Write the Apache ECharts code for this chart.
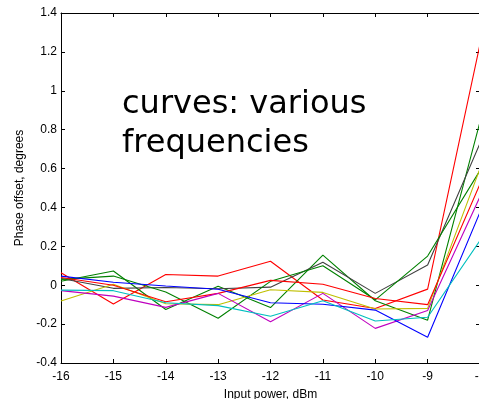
<!DOCTYPE html>
<html>
<head>
<meta charset="utf-8">
<script src="https://cdn.jsdelivr.net/npm/echarts@6/dist/echarts.min.js"></script>
<style>
  html, body { margin: 0; padding: 0; background: #fff; }
  #chart { width: 479px; height: 399px; }
</style>
</head>
<body>
<div id="chart"></div>
<script>
// input power, dBm
const powers = [-16, -15, -14, -13, -12, -11, -10, -9, -8];

// phase offset (degrees), one curve per frequency
const redA    = [0.064, -0.097, 0.055, 0.047, 0.123, -0.076, -0.12, -0.02, 1.24];
const redB    = [0.04, 0.0, -0.085, -0.042, 0.025, 0.005, -0.068, -0.10, 0.52];
const greenP  = [0.02, 0.073, -0.125, -0.005, -0.115, 0.155, -0.08, -0.18, 0.84];
const greenQ  = [0.03, 0.047, -0.035, -0.17, 0.02, 0.10, -0.075, 0.15, 0.59];
const grey    = [0.035, -0.016, -0.012, -0.018, -0.01, 0.118, -0.042, 0.104, 0.73];
const blue    = [0.047, 0.015, -0.004, -0.021, -0.09, -0.098, -0.128, -0.268, 0.375];
const cyan    = [-0.025, -0.028, -0.09, -0.105, -0.16, -0.08, -0.184, -0.165, 0.23];
const magenta = [-0.028, -0.056, -0.114, -0.042, -0.188, -0.042, -0.222, -0.13, 0.455];
const yellow  = [-0.081, 0.005, -0.095, -0.1, -0.023, -0.037, -0.122, -0.119, 0.6];

const curves = [
  { data: redA, color: "#ff0000" },
  { data: greenP, color: "#008000" },
  { data: grey, color: "#404040" },
  { data: greenQ, color: "#008000" },
  { data: yellow, color: "#bfbf00" },
  { data: redB, color: "#ff0000" },
  { data: magenta, color: "#bf00bf" },
  { data: blue, color: "#0000ff" },
  { data: cyan, color: "#00bfbf" }
];

const font = "Liberation Sans, Arial, sans-serif";
const chart = echarts.init(document.getElementById("chart"));

const axisLine = { show: true, onZero: false, lineStyle: { color: "#000", width: 1 } };
const axisTick = { show: true, inside: true, length: 4, lineStyle: { color: "#000" } };

chart.setOption({
  animation: false,
  grid: { left: 61, top: 13, width: 419, height: 350, outerBoundsMode: "none", containLabel: false },
  xAxis: [
    {
      type: "value", min: -16, max: -8, interval: 1,
      name: "Input power, dBm", nameLocation: "middle", nameGap: 26,
      nameTextStyle: { fontFamily: font, fontSize: 12, color: "#000" },
      axisLine, axisTick,
      axisLabel: { fontFamily: font, fontSize: 12, color: "#000", margin: 8 },
      splitLine: { show: false }
    },
    {
      type: "value", position: "top", min: -16, max: -8, interval: 1,
      axisLine, axisTick, axisLabel: { show: false }, splitLine: { show: false }
    }
  ],
  yAxis: [
    {
      type: "value", min: -0.4, max: 1.4, interval: 0.2,
      name: "Phase offset, degrees", nameLocation: "middle", nameGap: 33,
      nameTextStyle: { fontFamily: font, fontSize: 12, color: "#000" },
      axisLine, axisTick,
      axisLabel: { fontFamily: font, fontSize: 12, color: "#000", margin: 4 },
      splitLine: { show: false }
    },
    {
      type: "value", position: "right", min: -0.4, max: 1.4, interval: 0.2,
      axisLine, axisTick, axisLabel: { show: false }, splitLine: { show: false }
    }
  ],
  series: curves.map((c) => ({
    type: "line",
    data: powers.map((p, i) => [p, c.data[i]]),
    symbol: "none",
    lineStyle: { color: c.color, width: 1.1 }
  })),
  graphic: [
    {
      type: "text", left: 122, top: 85,
      style: {
        text: "curves: various\nfrequencies",
        font: "32px DejaVu Sans",
        lineHeight: 39,
        fill: "#000"
      }
    }
  ]
});
</script>
</body>
</html>
